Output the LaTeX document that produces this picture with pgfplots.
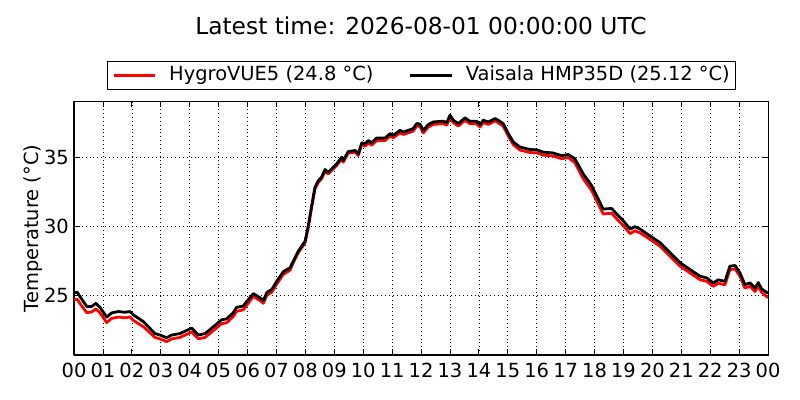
\documentclass[border=0pt]{standalone}
\usepackage{fontspec}
\setmainfont{DejaVu Sans}
\usepackage{pgfplots}
\pgfplotsset{compat=1.18}
\usepackage{pgfplotstable}
\pgfplotstableread{
h T
0.00 25.15
0.11 25.20
0.25 24.75
0.44 24.17
0.61 24.17
0.76 24.40
0.90 24.10
1.13 23.40
1.30 23.70
1.53 23.80
1.75 23.75
1.94 23.80
2.05 23.56
2.40 23.07
2.80 22.20
2.97 22.10
3.20 21.90
3.38 22.10
3.66 22.20
4.07 22.60
4.30 22.10
4.53 22.20
4.82 22.70
5.10 23.20
5.28 23.27
5.50 23.70
5.62 24.10
5.85 24.20
5.97 24.53
6.20 25.10
6.43 24.80
6.55 24.60
6.67 25.20
6.84 25.40
7.01 26.00
7.24 26.70
7.47 26.97
7.58 27.45
7.76 28.20
7.99 28.90
8.10 30.00
8.22 31.50
8.33 32.80
8.45 33.30
8.56 33.54
8.68 34.10
8.79 33.90
9.08 34.50
9.26 35.00
9.31 34.75
9.48 35.40
9.72 35.48
9.83 35.24
9.95 36.04
10.06 35.97
10.18 36.20
10.29 36.04
10.47 36.39
10.76 36.39
10.93 36.70
11.04 36.58
11.27 36.94
11.39 36.82
11.56 36.94
11.73 37.07
11.85 37.43
11.96 37.40
12.08 36.94
12.25 37.36
12.42 37.55
12.77 37.60
12.89 37.50
13.00 38.04
13.12 37.67
13.29 37.43
13.52 37.85
13.69 37.60
13.92 37.60
14.04 37.36
14.15 37.67
14.33 37.55
14.56 37.80
14.67 37.67
14.84 37.43
15.02 36.70
15.19 36.10
15.42 35.73
15.77 35.55
16.00 35.53
16.23 35.36
16.57 35.30
16.86 35.10
17.09 35.19
17.32 34.88
17.61 33.78
17.90 32.93
18.07 32.20
18.30 31.23
18.59 31.28
18.77 30.86
19.00 30.37
19.23 29.77
19.40 29.96
19.58 29.77
19.92 29.28
20.26 28.80
20.61 28.07
20.96 27.34
21.30 26.85
21.65 26.36
21.88 26.24
22.10 25.88
22.28 26.10
22.51 25.99
22.68 27.09
22.86 27.14
23.03 26.60
23.20 25.75
23.38 25.88
23.55 25.50
23.66 25.90
23.78 25.44
24.00 25.12
}\vaisala
\pgfplotstableread{
h T
0.00 24.65
0.11 24.70
0.25 24.25
0.44 23.72
0.61 23.77
0.76 24.00
0.90 23.70
1.13 23.00
1.30 23.30
1.53 23.40
1.75 23.35
1.94 23.40
2.05 23.16
2.40 22.70
2.80 21.92
2.97 21.82
3.20 21.62
3.38 21.82
3.66 21.92
4.07 22.32
4.30 21.82
4.53 21.92
4.82 22.42
5.10 22.92
5.28 22.99
5.50 23.42
5.62 23.82
5.85 23.92
5.97 24.25
6.20 24.90
6.43 24.60
6.55 24.40
6.67 25.00
6.84 25.20
7.01 25.80
7.24 26.50
7.47 26.80
7.58 27.33
7.76 28.08
7.99 28.78
8.10 29.88
8.22 31.38
8.33 32.68
8.45 33.18
8.56 33.42
8.68 33.98
8.79 33.78
9.08 34.38
9.26 34.88
9.31 34.63
9.48 35.28
9.72 35.36
9.83 35.12
9.95 35.92
10.06 35.79
10.18 36.02
10.29 35.86
10.47 36.21
10.76 36.21
10.93 36.52
11.04 36.40
11.27 36.76
11.39 36.64
11.56 36.76
11.73 36.89
11.85 37.25
11.96 37.22
12.08 36.76
12.25 37.18
12.42 37.37
12.77 37.42
12.89 37.32
13.00 37.86
13.12 37.49
13.29 37.25
13.52 37.67
13.69 37.42
13.92 37.42
14.04 37.18
14.15 37.49
14.33 37.37
14.56 37.62
14.67 37.49
14.84 37.25
15.02 36.52
15.19 35.90
15.42 35.51
15.77 35.33
16.00 35.31
16.23 35.14
16.57 35.08
16.86 34.88
17.09 34.97
17.32 34.60
17.61 33.43
17.90 32.58
18.07 31.85
18.30 30.88
18.59 30.93
18.77 30.51
19.00 30.02
19.23 29.45
19.40 29.66
19.58 29.50
19.92 29.03
20.26 28.55
20.61 27.82
20.96 27.09
21.30 26.60
21.65 26.11
21.88 25.99
22.10 25.63
22.28 25.85
22.51 25.74
22.68 26.84
22.86 26.89
23.03 26.35
23.20 25.50
23.38 25.63
23.55 25.25
23.66 25.65
23.78 25.19
24.00 24.80
}\hygro
\begin{document}
\begin{tikzpicture}
\path[use as bounding box] (-53.3pt,-32.4pt) rectangle (522.7pt,255.6pt);
\begin{axis}[
  scale only axis,
  width=499.7pt, height=182.2pt,
  xmin=0, xmax=24, ymin=20.65, ymax=39,
  axis line style={line width=0.8pt},
  xtick={0,1,...,24},
  xticklabels={00,01,02,03,04,05,06,07,08,09,10,11,12,13,14,15,16,17,18,19,20,21,22,23,00},
  ytick={25,30,35},
  /pgf/number format/assume math mode=true,
  tick align=inside,
  major tick length=4pt,
  tick style={black, line width=0.6pt},
  grid=major,
  major grid style={black, line width=0.5pt, dash pattern=on 0.6pt off 2.2pt},
  ticklabel style={font=\fontsize{14}{16}\selectfont},
  xticklabel style={inner sep=0pt, anchor=north, yshift=-5.8pt},
  yticklabel style={inner sep=0pt, anchor=east, xshift=-3.6pt},
  ylabel={Temperature (°C)},
  every axis y label/.style={at={(axis description cs:-0.0515,0.5)}, rotate=90, anchor=base, font=\fontsize{14}{16}\selectfont},
  title={Latest time: 2026-08-01 00:00:00 UTC},
  title style={at={(axis description cs:0.5,1)}, anchor=base, yshift=42.7pt, font=\fontsize{16.8}{20}\selectfont},
  legend columns=2,
  legend style={at={(axis description cs:0.5,1.047)}, anchor=south, draw=black, line width=0.7pt,
    font=\fontsize{14}{16}\selectfont, inner xsep=3.8pt, inner ysep=3.5pt,
    nodes={inner sep=0pt, text depth=0.3em, text height=1.0em},
    /tikz/every odd column/.append style={column sep=9.0pt},
    /tikz/every even column/.append style={column sep=25.5pt}},
  legend image code/.code={\draw[#1] (0pt,0pt) -- (30pt,0pt);},
  line join=round,
]
\addplot[red, line width=2pt] table[x=h, y=T] {\hygro};
\addlegendentry{HygroVUE5 (24.8 °C)}
\addplot[black, line width=2pt] table[x=h, y=T] {\vaisala};
\addlegendentry{Vaisala HMP35D (25.12 °C)}
\end{axis}
\end{tikzpicture}
\end{document}
